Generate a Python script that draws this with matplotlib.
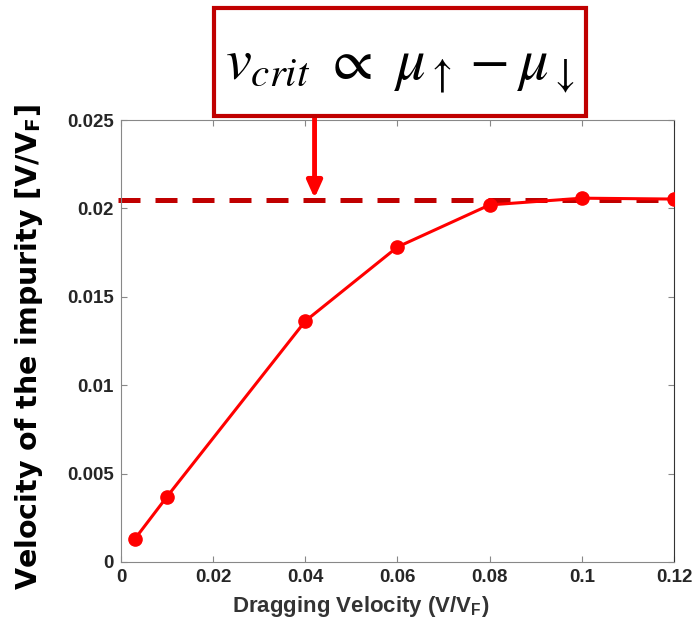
import matplotlib.pyplot as plt
from matplotlib.patches import FancyBboxPatch

# data
drag_v = [0.003, 0.01, 0.04, 0.06, 0.08, 0.10, 0.12]
imp_v = [0.0013, 0.0037, 0.01363, 0.01782, 0.0202, 0.02058, 0.02053]
v_crit = 0.02048
arrow_x = 0.042

xticks = [0, 0.02, 0.04, 0.06, 0.08, 0.1, 0.12]
xticklabels = ['0', '0.02', '0.04', '0.06', '0.08', '0.1', '0.12']
yticks = [0, 0.005, 0.01, 0.015, 0.02, 0.025]
yticklabels = ['0', '0.005', '0.01', '0.015', '0.02', '0.025']

plt.rcParams['mathtext.fontset'] = 'stix'

fig = plt.figure(figsize=(6.97, 6.22), dpi=100)
ax = fig.add_axes([0.1736, 0.0965, 0.7934, 0.7105])

ax.plot(drag_v, imp_v, '-o', color='#ff0000', lw=2.2, ms=9.5, zorder=3)
ax.axhline(v_crit, xmin=-0.005, xmax=1.0, color='#c00000', lw=3.6,
           dashes=(4.4, 3.0), clip_on=False, zorder=2)

ax.set_xlim(0, 0.12)
ax.set_ylim(0, 0.025)
ax.set_xticks(xticks)
ax.set_xticklabels(xticklabels)
ax.set_yticks(yticks)
ax.set_yticklabels(yticklabels)
ax.tick_params(direction='in', top=True, right=True, length=4, width=0.8,
               colors='#888888', labelcolor='#262626', labelsize=13.5, pad=5)
for lab in ax.get_xticklabels() + ax.get_yticklabels():
    lab.set_fontweight('bold')
    lab.set_family('Liberation Sans')
for sp in ax.spines.values():
    sp.set_color('#888888')
    sp.set_linewidth(0.8)
ax.spines['right'].set_color('#333333')

ax.set_xlabel('Dragging Velocity (V/V$_\\mathregular{F}$)', fontsize=16,
              fontweight='bold', color='#333333', family='Liberation Sans')
ax.xaxis.set_label_coords(0.434, -0.072)
ax.set_ylabel('Velocity of the impurity [V/V$_\\mathregular{F}$]', fontsize=20.5,
              fontweight='bold', color='black')
ax.yaxis.set_label_coords(-0.137, 0.486)

# formula box above the axes
box = FancyBboxPatch((0.307, 0.813), 0.534, 0.174, transform=fig.transFigure,
                     boxstyle='square,pad=0', fc='white', ec='#c00000', lw=3)
fig.patches.append(box)
fig.text(0.574, 0.893, r'$v_{crit}\ \propto\ \mu_{\uparrow}-\mu_{\downarrow}$',
         fontsize=42, ha='center', va='center')

ax.annotate('', xy=(arrow_x, v_crit + 0.0001), xycoords='data',
            xytext=(arrow_x, 0.812), textcoords=('data', 'figure fraction'),
            arrowprops=dict(arrowstyle='-|>,head_width=0.45,head_length=1.0',
                            color='#ff0000', lw=3.5, shrinkA=0, shrinkB=0),
            annotation_clip=False)

fig.savefig('out.png', dpi=100)
